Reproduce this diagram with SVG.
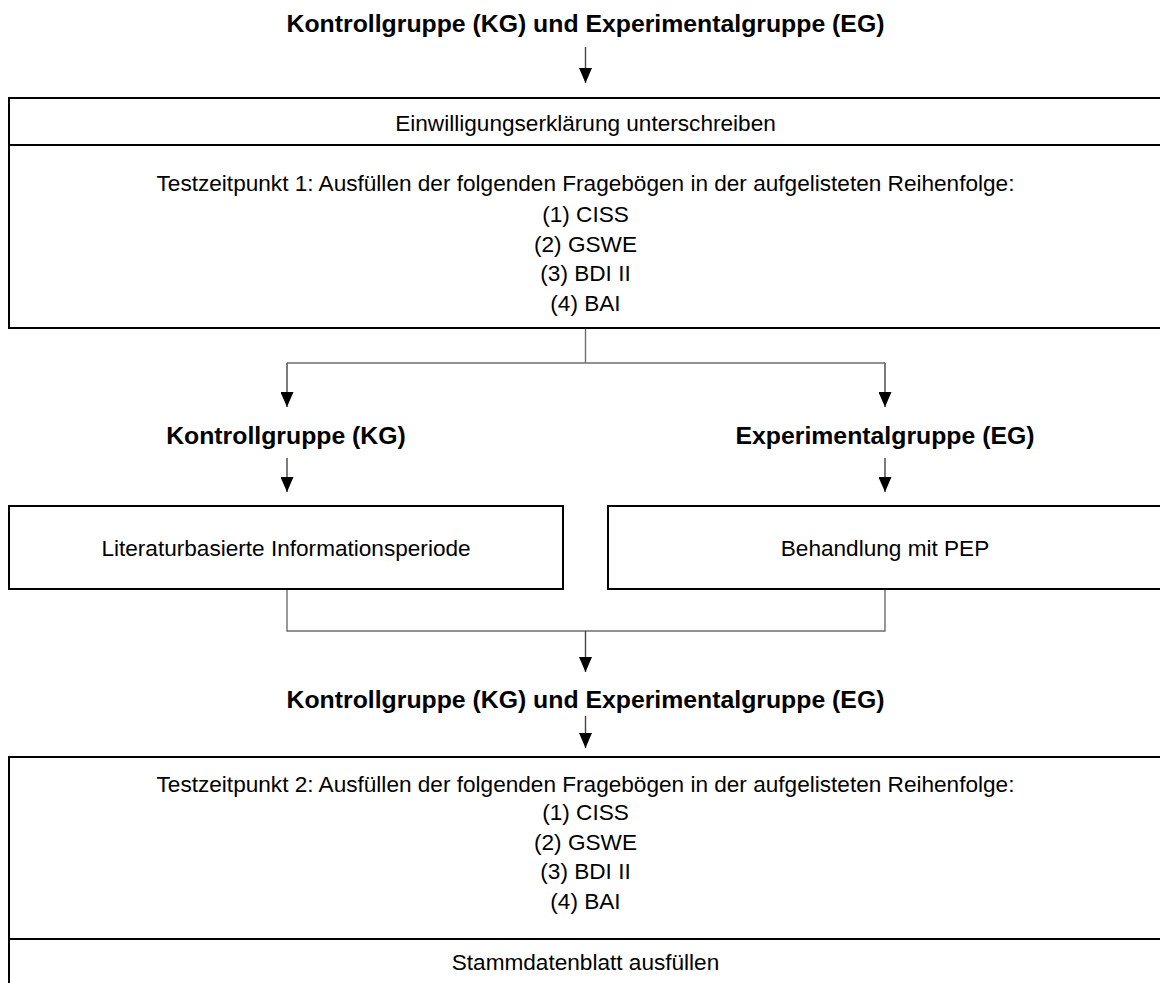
<svg xmlns="http://www.w3.org/2000/svg" width="1160" height="983" viewBox="0 0 1160 983">
<style>
.t{font-family:"Liberation Sans",Arial,sans-serif;font-size:22.6px;fill:#000;text-anchor:middle}
.b{font-family:"Liberation Sans",Arial,sans-serif;font-size:24.8px;font-weight:bold;fill:#000;text-anchor:middle}
.box{fill:#fff;stroke:#000;stroke-width:2}
.c{fill:none;stroke:#6e6e6e;stroke-width:1.4}
.a{fill:none;stroke:#444;stroke-width:1.4;marker-end:url(#ah)}
</style>
<defs>
<marker id="ah" markerUnits="userSpaceOnUse" markerWidth="15" markerHeight="13" viewBox="0 0 15 13" refX="15" refY="6.5" orient="auto">
<path d="M0,0 L15,6.5 L0,13 z" fill="#000"/>
</marker>
</defs>
<rect width="1160" height="983" fill="#fff"/>
<g id="connectors">
<line class="a" x1="585.5" y1="47" x2="585.5" y2="83"/>
<polyline class="c" points="585.5,328 585.5,363"/>
<polyline class="c" points="287,363 885,363"/>
<line class="a" x1="287" y1="363" x2="287" y2="407"/>
<line class="a" x1="885" y1="363" x2="885" y2="407"/>
<line class="a" x1="287" y1="458" x2="287" y2="492"/>
<line class="a" x1="885" y1="458" x2="885" y2="492"/>
<polyline class="c" points="287,590 287,631 885,631 885,590"/>
<line class="a" x1="585.5" y1="631" x2="585.5" y2="672"/>
<line class="a" x1="585.5" y1="716" x2="585.5" y2="748"/>
</g>
<g id="title1"><text class="b" x="585.5" y="32">Kontrollgruppe (KG) und Experimentalgruppe (EG)</text></g>
<g id="box1">
<rect class="box" x="9" y="98" width="1153" height="230"/>
<line x1="9" y1="145" x2="1162" y2="145" stroke="#000" stroke-width="2"/>
<text class="t" x="585.5" y="131">Einwilligungserklärung unterschreiben</text>
<text class="t" x="585.5" y="191">Testzeitpunkt 1: Ausfüllen der folgenden Fragebögen in der aufgelisteten Reihenfolge:</text>
<text class="t" x="585.5" y="222">(1) CISS</text>
<text class="t" x="585.5" y="252">(2) GSWE</text>
<text class="t" x="585.5" y="281">(3) BDI II</text>
<text class="t" x="585.5" y="311">(4) BAI</text>
</g>
<g id="kg"><text class="b" x="286" y="444">Kontrollgruppe (KG)</text></g>
<g id="eg"><text class="b" x="885" y="444">Experimentalgruppe (EG)</text></g>
<g id="boxKG">
<rect class="box" x="9" y="506" width="554" height="83"/>
<text class="t" x="286" y="556">Literaturbasierte Informationsperiode</text>
</g>
<g id="boxEG">
<rect class="box" x="608" y="506" width="554" height="83"/>
<text class="t" x="885" y="556">Behandlung mit PEP</text>
</g>
<g id="title2"><text class="b" x="585.5" y="708">Kontrollgruppe (KG) und Experimentalgruppe (EG)</text></g>
<g id="box2">
<rect class="box" x="9" y="757" width="1153" height="240"/>
<line x1="9" y1="939" x2="1162" y2="939" stroke="#000" stroke-width="2"/>
<text class="t" x="585.5" y="792">Testzeitpunkt 2: Ausfüllen der folgenden Fragebögen in der aufgelisteten Reihenfolge:</text>
<text class="t" x="585.5" y="820">(1) CISS</text>
<text class="t" x="585.5" y="850">(2) GSWE</text>
<text class="t" x="585.5" y="879">(3) BDI II</text>
<text class="t" x="585.5" y="909">(4) BAI</text>
<text class="t" x="585.5" y="970">Stammdatenblatt ausfüllen</text>
</g>
</svg>
